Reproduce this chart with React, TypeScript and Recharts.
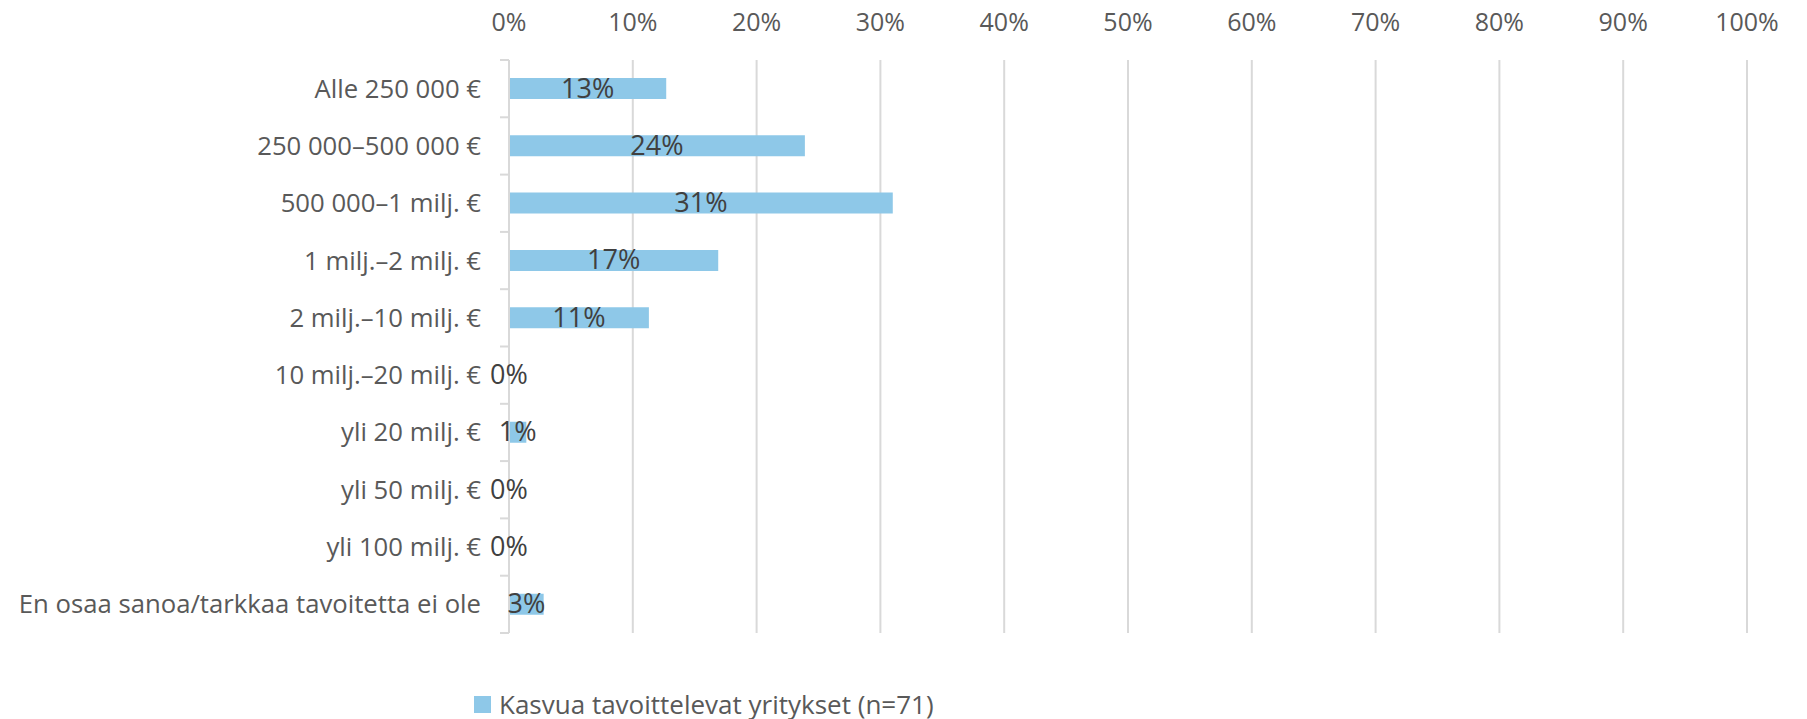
import { BarChart, Bar, XAxis, YAxis, CartesianGrid, Legend, LabelList } from 'recharts';

const categories = [
  'Alle 250 000 €',
  '250 000–500 000 €',
  '500 000–1 milj. €',
  '1 milj.–2 milj. €',
  '2 milj.–10 milj. €',
  '10 milj.–20 milj. €',
  'yli 20 milj. €',
  'yli 50 milj. €',
  'yli 100 milj. €',
  'En osaa sanoa/tarkkaa tavoitetta ei ole',
];

// share of companies, % (n=71)
const shares = [12.7, 23.9, 31.0, 16.9, 11.3, 0, 1.4, 0, 0, 2.8];

const xTicks = [0, 10, 20, 30, 40, 50, 60, 70, 80, 90, 100];

const seriesName = 'Kasvua tavoittelevat yritykset (n=71)';

const data = categories.map((name, i) => ({ name, value: shares[i] }));

const FONT = '"Open Sans", sans-serif';
const AXIS_TEXT = '#595959';
const LABEL_TEXT = '#404040';
const GRID = '#d9d9d9';
const BAR = '#8ec8e8';

const WIDTH = 1807;
const HEIGHT = 719;
const PLOT_TOP = 60;
const PLOT_BOTTOM = 633;
const HALF_BAND = (PLOT_BOTTOM - PLOT_TOP) / categories.length / 2;

const CategoryTick = ({ x, y, payload, index }: any) => {
  return (
    <g>
      <line x1={x + 19} x2={x + 28} y1={y - HALF_BAND} y2={y - HALF_BAND} stroke={GRID} strokeWidth={2} />
      {index === categories.length - 1 && (
        <line x1={x + 19} x2={x + 28} y1={y + HALF_BAND} y2={y + HALF_BAND} stroke={GRID} strokeWidth={2} />
      )}
      <text x={x} y={y} dy={9} textAnchor="end" fill={AXIS_TEXT} fontSize={25.7} fontFamily={FONT}>
        {payload.value}
      </text>
    </g>
  );
};

const BarLabel = ({ x, y, width, height, value }: any) => (
  <text
    x={x + width / 2}
    y={y + height / 2}
    dy={9}
    textAnchor="middle"
    fill={LABEL_TEXT}
    fontSize={27}
    fontFamily={FONT}
  >
    {`${Math.round(Number(value))}%`}
  </text>
);

const LegendContent = () => (
  <div style={{ display: 'flex', alignItems: 'center', height: 30, fontFamily: FONT, fontSize: 26, color: AXIS_TEXT }}>
    <span style={{ width: 17, height: 17, background: BAR, display: 'inline-block', marginRight: 8 }} />
    <span>{seriesName}</span>
  </div>
);

export default function App() {
  return (
    <div style={{ position: 'absolute', left: 0, top: 0, width: WIDTH, height: HEIGHT, background: '#fff' }}>
      <BarChart
        width={WIDTH}
        height={HEIGHT}
        data={data}
        layout="vertical"
        margin={{ top: 0, right: 60, bottom: 56, left: 0 }}
        barSize={21}
      >
        <CartesianGrid horizontal={false} vertical stroke={GRID} strokeWidth={2} />
        <XAxis
          type="number"
          orientation="top"
          domain={[0, 100]}
          ticks={xTicks}
          tickFormatter={(v) => `${v}%`}
          height={PLOT_TOP}
          tickSize={0}
          tickMargin={29}
          axisLine={false}
          tickLine={false}
          tick={{ fill: AXIS_TEXT, fontSize: 25, fontFamily: FONT }}
        />
        <YAxis
          type="category"
          dataKey="name"
          width={509}
          tickSize={0}
          tickMargin={28}
          axisLine={{ stroke: GRID, strokeWidth: 2 }}
          tickLine={false}
          interval={0}
          tick={<CategoryTick />}
        />
        <Legend
          verticalAlign="bottom"
          content={<LegendContent />}
          wrapperStyle={{ position: 'absolute', left: 474, top: 689, width: 'auto' }}
        />
        <Bar dataKey="value" name={seriesName} fill={BAR} minPointSize={0.01} isAnimationActive={false}>
          <LabelList dataKey="value" content={<BarLabel />} />
        </Bar>
      </BarChart>
    </div>
  );
}
